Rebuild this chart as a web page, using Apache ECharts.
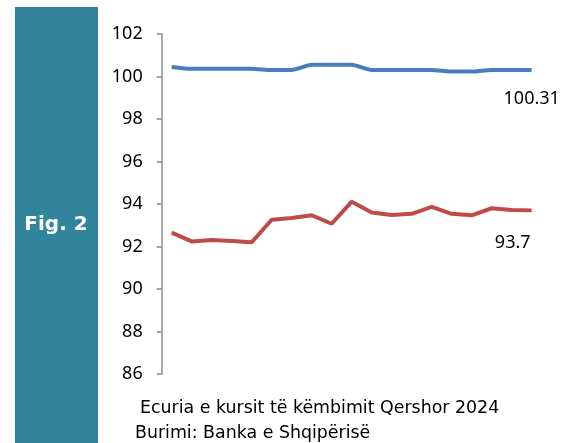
<!DOCTYPE html>
<html>
<head>
<meta charset="utf-8">
<script src="https://cdn.jsdelivr.net/npm/echarts@6/dist/echarts.min.js"></script>
<style>
  html, body { margin: 0; padding: 0; background: #fff; }
  #chart { width: 566px; height: 443px; }
</style>
</head>
<body>
<div id="chart"></div>
<script>
// daily observations, June 2024 (categories unlabeled on the figure)
var days = ['1', '2', '3', '4', '5', '6', '7', '8', '9', '10', '11', '12', '13', '14', '15', '16', '17', '18', '19']
var blueSeries = [100.45, 100.36, 100.36, 100.36, 100.36, 100.31, 100.31, 100.55, 100.55, 100.55, 100.31, 100.31, 100.31, 100.31, 100.23, 100.23, 100.31, 100.31, 100.31]
var redSeries = [92.65, 92.24, 92.31, 92.26, 92.2, 93.26, 93.34, 93.47, 93.07, 94.11, 93.6, 93.48, 93.54, 93.87, 93.54, 93.47, 93.8, 93.72, 93.7]
var yTicks = { min: 86, max: 102, interval: 2 }
var captionLines = ['Ecuria e kursit të këmbimit Qershor 2024', 'Burimi: Banka e Shqipërisë']
var figLabel = 'Fig. 2'

var font = 'Noto Sans'

function lastLabel(series, offset) {
  return series.map(function(v, i) {
    if (i !== series.length - 1) return v
    return {
      value: v,
      label: {
        show: true,
        position: 'bottom',
        distance: 0,
        offset: offset,
        formatter: String(v),
        color: '#000',
        fontFamily: font,
        fontSize: 18
      }
    }
  })
}

var chart = echarts.init(document.getElementById('chart'))
chart.setOption({
  animation: false,
  grid: {
    left: 161.7,
    right: 24.3,
    top: 34,
    bottom: 69
  },
  xAxis: {
    type: 'category',
    data: days,
    boundaryGap: true,
    axisLine: { show: false },
    axisTick: { show: false },
    axisLabel: { show: false },
    splitLine: { show: false }
  },
  yAxis: {
    type: 'value',
    min: yTicks.min,
    max: yTicks.max,
    interval: yTicks.interval,
    axisLine: { show: true, lineStyle: { color: '#8c8c8c', width: 1.5 } },
    axisTick: { show: true, length: 5, lineStyle: { color: '#8c8c8c', width: 1.5 } },
    axisLabel: { color: '#000', fontFamily: font, fontSize: 18, margin: 19 },
    splitLine: { show: false }
  },
  graphic: [
    {
      type: 'rect',
      shape: { x: 15, y: 7, width: 83, height: 440 },
      style: { fill: '#31849B' }
    },
    {
      type: 'text',
      x: 56,
      y: 225,
      style: {
        text: figLabel,
        fill: '#fff',
        font: 'bold 20px "DejaVu Sans"',
        textAlign: 'center',
        textVerticalAlign: 'middle'
      }
    },
    {
      type: 'text',
      x: 140,
      y: 408,
      style: {
        text: captionLines[0],
        fill: '#000',
        font: '17.4px "DejaVu Sans"',
        textVerticalAlign: 'middle'
      }
    },
    {
      type: 'text',
      x: 135,
      y: 433,
      style: {
        text: captionLines[1],
        fill: '#000',
        font: '17.4px "DejaVu Sans"',
        textVerticalAlign: 'middle'
      }
    }
  ],
  series: [
    {
      name: 'blue',
      type: 'line',
      data: lastLabel(blueSeries, [0, 20]),
      symbol: 'circle',
      symbolSize: 0,
      showSymbol: true,
      smooth: 0.2,
      lineStyle: { color: '#4A7EBB', width: 4 },
      itemStyle: { color: '#4A7EBB' }
    },
    {
      name: 'red',
      type: 'line',
      data: lastLabel(redSeries, [-19, 23]),
      symbol: 'circle',
      symbolSize: 0,
      showSymbol: true,
      lineStyle: { color: '#BE4B48', width: 4 },
      itemStyle: { color: '#BE4B48' }
    }
  ]
})
</script>
</body>
</html>
